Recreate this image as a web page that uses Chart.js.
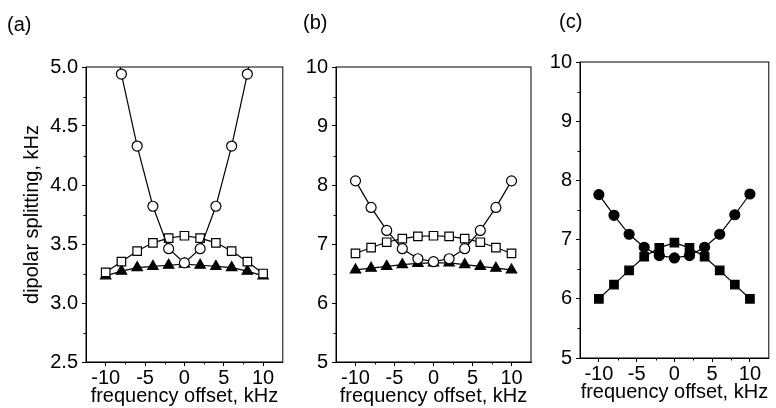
<!DOCTYPE html>
<html>
<head>
<meta charset="utf-8">
<script src="https://cdn.jsdelivr.net/npm/chart.js@4"></script>
<style>
  body { margin: 0; background: #fff; }
  .panel { position: absolute; top: 0; height: 408px; }
</style>
</head>
<body>
<div class="panel" style="left:0;width:290px"><canvas id="chartA"></canvas></div>
<div class="panel" style="left:290px;width:250px"><canvas id="chartB"></canvas></div>
<div class="panel" style="left:540px;width:236px"><canvas id="chartC"></canvas></div>
<script>
// frequency offsets, kHz
const offsets = [-10, -8, -6, -4, -2, 0, 2, 4, 6, 8, 10];
const xTicks = [-10, -5, 0, 5, 10];
const xMinor = [-7.5, -2.5, 2.5, 7.5];

// panel (a) - dipolar splitting, kHz
const aCircles = [5.65, 4.94, 4.33, 3.82, 3.46, 3.34, 3.46, 3.82, 4.33, 4.94, 5.65];
const aSquares = [3.26, 3.35, 3.44, 3.51, 3.55, 3.57, 3.55, 3.51, 3.44, 3.35, 3.25];
const aTriangles = [3.23, 3.27, 3.30, 3.31, 3.32, 3.33, 3.32, 3.31, 3.30, 3.27, 3.23];
const aYTicks = [2.5, 3.0, 3.5, 4.0, 4.5, 5.0];
const aYMinor = [2.75, 3.25, 3.75, 4.25, 4.75];

// panel (b)
const bCircles = [8.07, 7.62, 7.23, 6.92, 6.75, 6.70, 6.75, 6.92, 7.23, 7.62, 8.07];
const bSquares = [6.84, 6.94, 7.03, 7.09, 7.13, 7.14, 7.13, 7.09, 7.03, 6.94, 6.84];
const bTriangles = [6.56, 6.59, 6.62, 6.65, 6.67, 6.68, 6.68, 6.65, 6.62, 6.59, 6.56];

// panel (c)
const cCircles = [7.76, 7.41, 7.09, 6.87, 6.73, 6.69, 6.73, 6.87, 7.09, 7.42, 7.77];
const cSquares = [6.00, 6.24, 6.48, 6.71, 6.86, 6.95, 6.86, 6.71, 6.48, 6.24, 6.00];

const bcYTicks = [5, 6, 7, 8, 9, 10];
const bcYMinor = [5.5, 6.5, 7.5, 8.5, 9.5];

const FONT = 'Liberation Sans, Arial, sans-serif';
const SIZE = 20;

// frame around the plot, minor ticks and the panel letter
const framePlugin = {
    id: 'frame',
    afterDraw(chart, args, opts) {
        const { ctx, chartArea, scales } = chart;
        const { left, top, right, bottom } = chartArea;
        ctx.save();
        ctx.strokeStyle = '#000';
        ctx.lineWidth = 1;
        ctx.strokeRect(left, top, right - left, bottom - top);
        ctx.beginPath();
        opts.xMinor.forEach(v => {
            const px = Math.round(scales.x.getPixelForValue(v)) + 0.5;
            ctx.moveTo(px, bottom);
            ctx.lineTo(px, bottom + 2.5);
        });
        opts.yMinor.forEach(v => {
            const py = Math.round(scales.y.getPixelForValue(v)) + 0.5;
            ctx.moveTo(left, py);
            ctx.lineTo(left - 2.5, py);
        });
        ctx.stroke();
        ctx.font = SIZE + 'px ' + FONT;
        ctx.fillStyle = '#000';
        ctx.textBaseline = 'alphabetic';
        ctx.fillText(opts.label, opts.labelX, opts.labelY);
        ctx.restore();
    }
};

const series = (data, style, radius, fill) => ({
    data: data.map((v, i) => ({ x: offsets[i], y: v })),
    borderColor: '#000',
    borderWidth: 1.2,
    pointStyle: style,
    pointRadius: radius,
    pointBackgroundColor: fill,
    pointBorderColor: '#000',
    pointBorderWidth: 1.2,
    tension: 0
});

const makeChart = (id, cfg) => {
    return new Chart(document.getElementById(id), {
        type: 'line',
        data: { datasets: cfg.datasets },
        options: {
            responsive: true,
            maintainAspectRatio: false,
            animation: false,
            layout: { padding: { top: cfg.top, right: cfg.right, left: 0, bottom: 0 } },
            plugins: {
                legend: { display: false },
                tooltip: { enabled: false },
                frame: {
                    xMinor: xMinor,
                    yMinor: cfg.yMinor,
                    label: cfg.label,
                    labelX: cfg.labelX,
                    labelY: cfg.labelY
                }
            },
            scales: {
                x: {
                    type: 'linear',
                    min: -12.5,
                    max: 12.5,
                    afterBuildTicks: s => { s.ticks = xTicks.map(v => ({ value: v })); },
                    afterFit: s => { s.height = cfg.xHeight; },
                    grid: { drawOnChartArea: false, tickLength: 4, color: '#000' },
                    border: { color: '#000' },
                    ticks: { color: '#000', padding: 0, maxRotation: 0, font: { family: FONT, size: SIZE } },
                    title: {
                        display: true,
                        text: 'frequency offset, kHz',
                        color: '#000',
                        padding: { top: 0, bottom: cfg.xTitlePad },
                        font: { family: FONT, size: SIZE }
                    }
                },
                y: {
                    type: 'linear',
                    min: cfg.yTicks[0],
                    max: cfg.yTicks[cfg.yTicks.length - 1],
                    afterBuildTicks: s => { s.ticks = cfg.yTicks.map(v => ({ value: v })); },
                    afterFit: s => { s.width = cfg.yWidth; },
                    grid: { drawOnChartArea: false, tickLength: 4, color: '#000' },
                    border: { color: '#000' },
                    ticks: {
                        color: '#000',
                        padding: 4,
                        font: { family: FONT, size: SIZE },
                        callback: cfg.yFormat
                    },
                    title: {
                        display: !!cfg.yTitle,
                        text: cfg.yTitle || '',
                        color: '#000',
                        padding: { top: 20, bottom: 0 },
                        font: { family: FONT, size: SIZE }
                    }
                }
            }
        },
        plugins: [framePlugin]
    });
};

makeChart('chartA', {
    datasets: [
        series(aCircles, 'circle', 5, '#fff'),
        series(aSquares, 'rect', 6, '#fff'),
        series(aTriangles, 'triangle', 6, '#000')
    ],
    top: 67, right: 7, yWidth: 86, xHeight: 46, xTitlePad: 0,
    yTicks: aYTicks, yMinor: aYMinor,
    yFormat: v => Number(v).toFixed(1),
    yTitle: 'dipolar splitting, kHz',
    label: '(a)', labelX: 7, labelY: 31
});

makeChart('chartB', {
    datasets: [
        series(bCircles, 'circle', 5, '#fff'),
        series(bSquares, 'rect', 6, '#fff'),
        series(bTriangles, 'triangle', 6, '#000')
    ],
    top: 67, right: 9, yWidth: 46, xHeight: 46, xTitlePad: 0,
    yTicks: bcYTicks, yMinor: bcYMinor,
    yFormat: v => v,
    label: '(b)', labelX: 13, labelY: 29
});

makeChart('chartC', {
    datasets: [
        series(cCircles, 'circle', 5, '#000'),
        series(cSquares, 'rect', 6, '#000')
    ],
    top: 62, right: 1, yWidth: 40, xHeight: 50, xTitlePad: 4,
    yTicks: bcYTicks, yMinor: bcYMinor,
    yFormat: v => v,
    label: '(c)', labelX: 19, labelY: 28
});
</script>
</body>
</html>
